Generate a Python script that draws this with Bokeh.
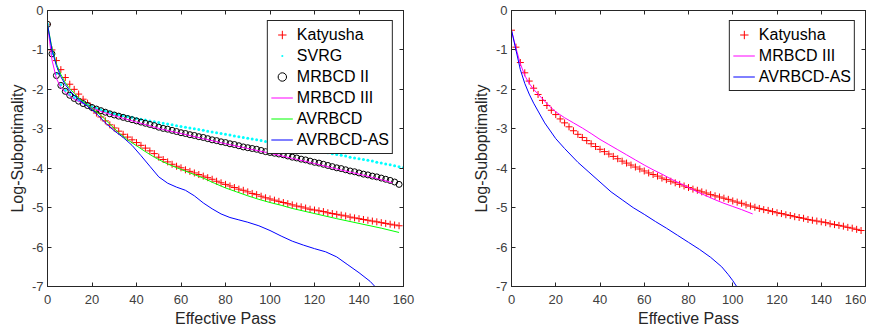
from bokeh.plotting import figure
from bokeh.layouts import row
from bokeh.models import Range1d, LinearAxis, FixedTicker, CustomJSTickFormatter
from bokeh.embed import file_html
from bokeh.resources import INLINE

# ---------------- data ----------------
x_ticks = [0, 20, 40, 60, 80, 100, 120, 140, 160]
y_ticks = [-7, -6, -5, -4, -3, -2, -1, 0]

# markers every 2 effective passes
pass_marks = list(range(0, 160, 2))
pass_svrg = list(range(0, 161, 2))

# ---- left panel ----
katyusha_left = [
    -0.35, -1.00, -1.27, -1.50, -1.70, -1.87, -2.00, -2.12, -2.25, -2.35,
    -2.47, -2.60, -2.70, -2.80, -2.90, -2.98, -3.06, -3.14, -3.21, -3.28,
    -3.35, -3.42, -3.49, -3.56, -3.63, -3.72, -3.78, -3.84, -3.90, -3.95,
    -3.99, -4.04, -4.08, -4.12, -4.16, -4.20, -4.24, -4.28, -4.33, -4.37,
    -4.41, -4.45, -4.49, -4.53, -4.56, -4.60, -4.64, -4.67, -4.71, -4.75,
    -4.78, -4.81, -4.84, -4.87, -4.90, -4.93, -4.96, -4.98, -5.01, -5.04,
    -5.06, -5.08, -5.10, -5.13, -5.15, -5.17, -5.19, -5.21, -5.24, -5.26,
    -5.28, -5.30, -5.32, -5.34, -5.36, -5.38, -5.40, -5.42, -5.44, -5.46]

svrg_left = [
    -0.35, -1.10, -1.60, -1.88, -2.03, -2.13, -2.21, -2.28, -2.34, -2.39,
    -2.44, -2.48, -2.52, -2.55, -2.58, -2.61, -2.64, -2.66, -2.69, -2.71,
    -2.74, -2.76, -2.78, -2.80, -2.82, -2.84, -2.86, -2.88, -2.90, -2.92,
    -2.94, -2.96, -2.98, -3.00, -3.02, -3.04, -3.06, -3.08, -3.10, -3.12,
    -3.14, -3.16, -3.18, -3.20, -3.22, -3.24, -3.26, -3.28, -3.30, -3.32,
    -3.34, -3.36, -3.38, -3.40, -3.42, -3.44, -3.46, -3.48, -3.50, -3.52,
    -3.54, -3.56, -3.59, -3.61, -3.63, -3.65, -3.67, -3.69, -3.72, -3.74,
    -3.76, -3.78, -3.80, -3.82, -3.85, -3.87, -3.89, -3.91, -3.94, -3.96,
    -3.98]

mrbcd2_left = [
    -0.35, -1.10, -1.65, -1.90, -2.05, -2.15, -2.23, -2.30, -2.36, -2.41,
    -2.46, -2.50, -2.54, -2.58, -2.62, -2.65, -2.68, -2.71, -2.74, -2.77,
    -2.80, -2.83, -2.86, -2.89, -2.92, -2.96, -2.99, -3.01, -3.04, -3.07,
    -3.10, -3.12, -3.15, -3.17, -3.20, -3.22, -3.25, -3.28, -3.30, -3.33,
    -3.35, -3.38, -3.40, -3.43, -3.46, -3.48, -3.50, -3.52, -3.55, -3.58,
    -3.60, -3.62, -3.64, -3.66, -3.69, -3.72, -3.74, -3.77, -3.79, -3.82,
    -3.85, -3.87, -3.90, -3.93, -3.96, -3.99, -4.01, -4.04, -4.07, -4.09,
    -4.12, -4.15, -4.17, -4.20, -4.22, -4.25, -4.28, -4.31, -4.35, -4.41]

mrbcd3_left_x = [0, 2, 4, 6, 8, 10, 12, 15, 20, 25, 30, 40, 50, 60, 70, 80,
                 90, 100, 110, 120, 130, 140, 150, 155]
mrbcd3_left = [-0.35, -1.25, -1.72, -1.96, -2.08, -2.17, -2.25, -2.33, -2.47,
               -2.58, -2.67, -2.83, -2.99, -3.12, -3.25, -3.38, -3.50, -3.62,
               -3.75, -3.88, -4.02, -4.15, -4.29, -4.37]

avrbcd_left_x = [0, 2, 4, 6, 8, 10, 12, 15, 18, 20, 24, 28, 32, 36, 40, 44,
                 48, 52, 56, 60, 65, 70, 75, 80, 85, 90, 95, 100, 105, 110,
                 120, 130, 140, 150, 158]
avrbcd_left = [-0.35, -0.95, -1.35, -1.62, -1.83, -1.98, -2.10, -2.27, -2.40,
               -2.48, -2.66, -2.88, -3.10, -3.28, -3.43, -3.58, -3.72, -3.84,
               -3.94, -4.03, -4.14, -4.25, -4.38, -4.50, -4.60, -4.70, -4.79,
               -4.87, -4.94, -5.02, -5.15, -5.28, -5.40, -5.52, -5.63]

avrbcdas_left_x = [0, 2, 4, 6, 8, 10, 12, 15, 18, 20, 23, 26, 30, 34, 38, 42,
                   46, 50, 54, 58, 62, 66, 70, 74, 78, 82, 86, 90, 95, 100,
                   105, 110, 115, 120, 125, 130, 135, 140, 145, 148]
avrbcdas_left = [-0.35, -1.00, -1.40, -1.68, -1.88, -2.03, -2.15, -2.30,
                 -2.43, -2.52, -2.67, -2.85, -3.05, -3.22, -3.42, -3.68,
                 -3.95, -4.22, -4.38, -4.48, -4.56, -4.70, -4.88, -5.03,
                 -5.16, -5.25, -5.31, -5.37, -5.46, -5.58, -5.72, -5.85,
                 -5.95, -6.04, -6.12, -6.25, -6.45, -6.65, -6.87, -7.05]

# ---- right panel ----
katyusha_right = [
    -0.50, -0.93, -1.32, -1.58, -1.79, -1.97, -2.13, -2.28, -2.41, -2.53,
    -2.64, -2.75, -2.85, -2.95, -3.05, -3.14, -3.22, -3.30, -3.38, -3.45,
    -3.52, -3.58, -3.64, -3.70, -3.76, -3.82, -3.87, -3.92, -3.97, -4.02,
    -4.07, -4.12, -4.16, -4.20, -4.25, -4.29, -4.33, -4.37, -4.41, -4.45,
    -4.49, -4.53, -4.56, -4.60, -4.63, -4.67, -4.70, -4.73, -4.76, -4.79,
    -4.83, -4.86, -4.89, -4.93, -4.96, -4.99, -5.02, -5.05, -5.07, -5.10,
    -5.13, -5.15, -5.18, -5.20, -5.23, -5.25, -5.27, -5.30, -5.32, -5.34,
    -5.36, -5.38, -5.41, -5.43, -5.45, -5.47, -5.50, -5.52, -5.55, -5.58]

mrbcd3_right_x = [0, 2, 4, 6, 8, 10, 12, 14, 16, 18, 20, 24, 28, 32, 36, 40,
                  44, 48, 52, 56, 60, 64, 68, 72, 76, 80, 84, 88, 92, 96, 100,
                  104, 109]
mrbcd3_right = [-0.50, -0.95, -1.35, -1.65, -1.85, -2.00, -2.12, -2.24, -2.36,
                -2.47, -2.57, -2.72, -2.85, -2.98, -3.12, -3.27, -3.40, -3.53,
                -3.66, -3.79, -3.92, -4.04, -4.15, -4.27, -4.38, -4.49, -4.60,
                -4.70, -4.80, -4.89, -4.97, -5.05, -5.16]

avrbcdas_right_x = [0, 2, 4, 6, 8, 10, 12, 15, 20, 24, 30, 35, 40, 45, 50, 55,
                    60, 65, 70, 75, 80, 85, 90, 95, 98, 100, 102]
avrbcdas_right = [-0.50, -1.00, -1.50, -1.85, -2.12, -2.35, -2.55, -2.85,
                  -3.25, -3.50, -3.85, -4.10, -4.35, -4.60, -4.80, -5.00,
                  -5.17, -5.35, -5.52, -5.70, -5.88, -6.06, -6.26, -6.50,
                  -6.70, -6.85, -7.02]

# ---------------- styling ----------------
FONT = "Liberation Sans"
AX = "#262626"
TICK = "#404040"


def make_fig(border_left, border_right, frame_w):
    p = figure(frame_width=frame_w, frame_height=276,
               x_range=Range1d(0, 160), y_range=Range1d(-7, 0),
               output_backend="svg", toolbar_location=None,
               min_border_left=border_left, min_border_right=border_right,
               min_border_top=10, min_border_bottom=0)
    p.grid.visible = False
    p.outline_line_color = AX
    p.outline_line_width = 1
    p.outline_line_alpha = 1
    p.background_fill_color = "white"
    p.border_fill_color = "white"

    for ax in (p.xaxis[0], p.yaxis[0]):
        ax.axis_line_color = AX
        ax.major_tick_line_color = AX
        ax.major_tick_in = 4
        ax.major_tick_out = 0
        ax.minor_tick_line_color = None
        ax.major_label_text_font = FONT
        ax.major_label_text_font_size = "13px"
        ax.major_label_text_color = TICK
        ax.axis_label_text_font = FONT
        ax.axis_label_text_font_size = "16px"
        ax.axis_label_text_font_style = "normal"
        ax.axis_label_text_color = AX
        ax.formatter = CustomJSTickFormatter(code="return tick.toString()")
    p.xaxis.ticker = FixedTicker(ticks=x_ticks)
    p.yaxis.ticker = FixedTicker(ticks=y_ticks)
    p.xaxis.axis_label = "Effective Pass"
    p.yaxis.axis_label = "Log-Suboptimality"
    p.xaxis.major_label_standoff = 8
    p.xaxis.axis_label_standoff = 3
    p.yaxis.major_label_standoff = 4
    p.yaxis.axis_label_standoff = 3

    # box ticks on top and right (MATLAB style), no labels
    for side, ticks in (("above", x_ticks), ("right", y_ticks)):
        ax = LinearAxis(ticker=FixedTicker(ticks=ticks),
                        formatter=CustomJSTickFormatter(code="return ''"),
                        major_tick_in=4, major_tick_out=0,
                        minor_tick_line_color=None,
                        axis_line_color=AX, major_tick_line_color=AX,
                        major_label_text_font_size="0px",
                        major_label_standoff=0)
        p.add_layout(ax, side)
    return p


def style_legend(p, margin):
    lg = p.legend[0]
    lg.location = "top_right"
    lg.margin = margin
    lg.border_line_color = AX
    lg.border_line_width = 1
    lg.border_line_alpha = 1
    lg.background_fill_color = "white"
    lg.background_fill_alpha = 1
    lg.padding = 3
    lg.spacing = 0
    lg.label_height = 21
    lg.glyph_height = 21
    lg.glyph_width = 22
    lg.label_standoff = 4
    lg.label_text_font = FONT
    lg.label_text_font_size = "16px"
    lg.label_text_color = "black"


# ---------------- left panel ----------------
p1 = make_fig(47, 37, 356)
p1.scatter(pass_marks, katyusha_left, marker="cross", size=7,
           line_color="#ff0000", line_width=1, legend_label="Katyusha")
p1.scatter(pass_svrg, svrg_left, marker="dot", size=12,
           line_color="#00ffff", fill_color="#00ffff", legend_label="SVRG")
p1.scatter(pass_marks, mrbcd2_left, marker="circle", size=6,
           fill_color=None, line_color="black", line_width=1,
           legend_label="MRBCD II")
p1.line(mrbcd3_left_x, mrbcd3_left, line_color="#ff00ff", line_width=1,
        legend_label="MRBCD III")
p1.line(avrbcd_left_x, avrbcd_left, line_color="#00ff00", line_width=1,
        legend_label="AVRBCD")
p1.line(avrbcdas_left_x, avrbcdas_left, line_color="#0000ff", line_width=1,
        legend_label="AVRBCD-AS")
style_legend(p1, 10)

# ---------------- right panel ----------------
p2 = make_fig(71, 1, 354)
p2.scatter(pass_marks, katyusha_right, marker="cross", size=7,
           line_color="#ff0000", line_width=1, legend_label="Katyusha")
p2.line(mrbcd3_right_x, mrbcd3_right, line_color="#ff00ff", line_width=1,
        legend_label="MRBCD III")
p2.line(avrbcdas_right_x, avrbcdas_right, line_color="#0000ff", line_width=1,
        legend_label="AVRBCD-AS")
style_legend(p2, 10)

layout = row(p1, p2)
open("out.html", "w").write(file_html(layout, INLINE))
